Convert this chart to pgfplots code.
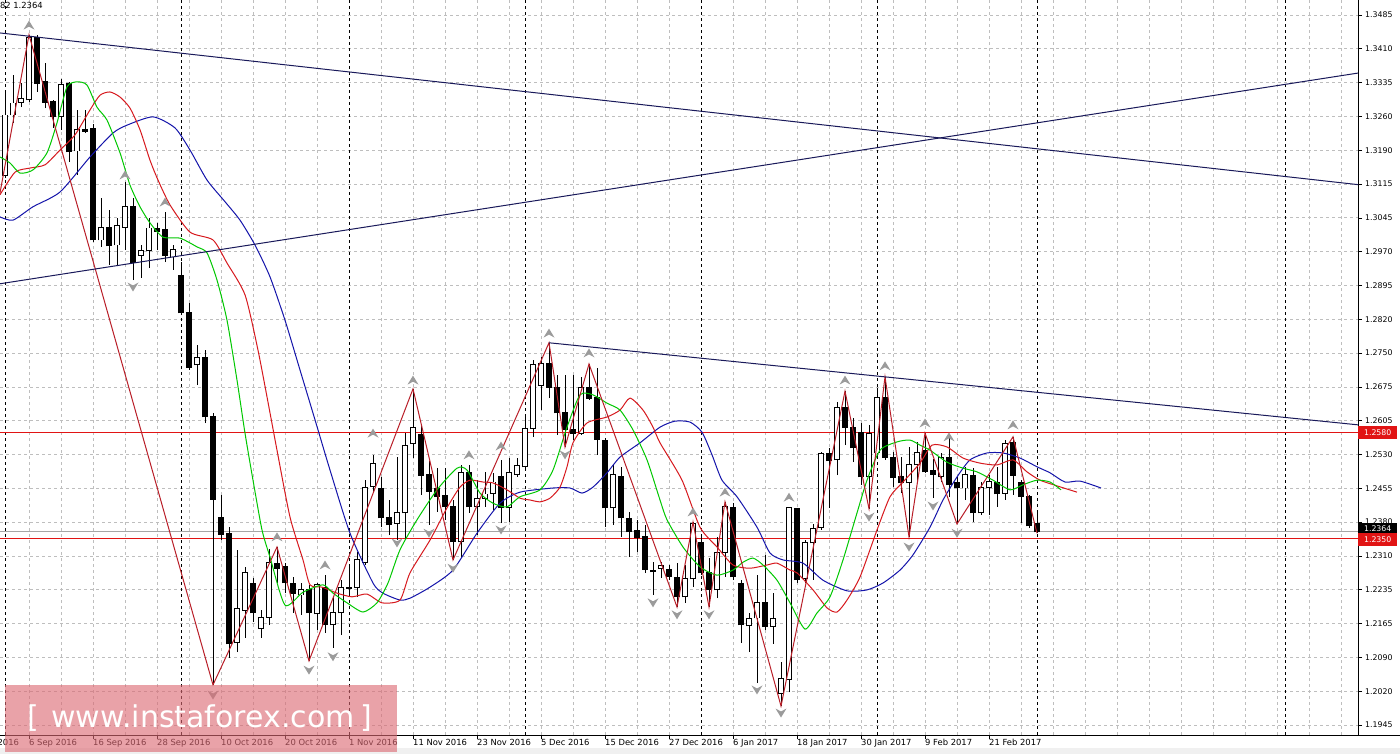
\documentclass[border=0pt]{standalone}
\usepackage{pgfplots}
\pgfplotsset{compat=1.18}
\usepackage{pgfplotstable}
\usepackage{fontspec}
\setmainfont{DejaVu Sans}

\definecolor{lips}{RGB}{0,200,0}
\definecolor{teeth}{RGB}{215,25,30}
\definecolor{jaw}{RGB}{20,20,170}
\definecolor{zz}{RGB}{185,30,40}
\definecolor{trend}{RGB}{25,25,90}
\definecolor{lvl}{RGB}{225,20,20}
\definecolor{gridc}{RGB}{190,190,190}
\definecolor{frac}{RGB}{155,155,155}
\definecolor{wm}{RGB}{220,105,115}

\pgfdeclareplotmark{fup}{%
 \pgfpathmoveto{\pgfqpoint{0pt}{4.5pt}}%
 \pgfpathlineto{\pgfqpoint{5.5pt}{-4.5pt}}%
 \pgfpathlineto{\pgfqpoint{0pt}{-1.5pt}}%
 \pgfpathlineto{\pgfqpoint{-5.5pt}{-4.5pt}}%
 \pgfpathclose\pgfusepathqfill}
\pgfdeclareplotmark{fdown}{%
 \pgfpathmoveto{\pgfqpoint{0pt}{-4.5pt}}%
 \pgfpathlineto{\pgfqpoint{5.5pt}{4.5pt}}%
 \pgfpathlineto{\pgfqpoint{0pt}{1.5pt}}%
 \pgfpathlineto{\pgfqpoint{-5.5pt}{4.5pt}}%
 \pgfpathclose\pgfusepathqfill}
\pgfdeclareplotmark{nothing}{}

\pgfplotstableread{
x o h l c
0 1.3136 1.3316 1.3131 1.3268
1 1.3268 1.3355 1.3251 1.3294
2 1.3296 1.3337 1.3285 1.3303
3 1.3301 1.3442 1.3296 1.3437
4 1.3437 1.3442 1.3318 1.3337
5 1.3340 1.3381 1.3283 1.3296
6 1.3298 1.3301 1.3240 1.3264
7 1.3264 1.3346 1.3236 1.3335
8 1.3337 1.3340 1.3166 1.3188
9 1.3190 1.3279 1.3138 1.3236
10 1.3236 1.3279 1.3229 1.3233
11 1.3238 1.3249 1.2993 1.2997
12 1.2997 1.3088 1.2982 1.3025
13 1.3025 1.3062 1.2943 1.2984
14 1.2986 1.3045 1.2943 1.3029
15 1.3025 1.3123 1.2975 1.3069
16 1.3069 1.3088 1.2910 1.2949
17 1.2964 1.2986 1.2915 1.2975
18 1.2975 1.3045 1.2936 1.3023
19 1.3023 1.3034 1.2975 1.3016
20 1.3019 1.3058 1.2949 1.2964
21 1.2960 1.2986 1.2932 1.2977
22 1.2921 1.2949 1.2834 1.2839
23 1.2839 1.2860 1.2715 1.2721
24 1.2726 1.2769 1.2682 1.2743
25 1.2743 1.2758 1.2600 1.2613
26 1.2615 1.2622 1.2032 1.2435
27 1.2396 1.2444 1.2346 1.2359
28 1.2361 1.2374 1.2090 1.2121
29 1.2123 1.2325 1.2103 1.2197
30 1.2194 1.2288 1.2134 1.2275
31 1.2253 1.2264 1.2168 1.2188
32 1.2155 1.2194 1.2134 1.2179
33 1.2179 1.2327 1.2162 1.2298
34 1.2296 1.2331 1.2253 1.2285
35 1.2288 1.2296 1.2231 1.2253
36 1.2251 1.2266 1.2188 1.2231
37 1.2227 1.2253 1.2184 1.2238
38 1.2240 1.2249 1.2084 1.2188
39 1.2186 1.2253 1.2151 1.2249
40 1.2244 1.2270 1.2145 1.2162
41 1.2162 1.2223 1.2112 1.2188
42 1.2188 1.2260 1.2140 1.2244
43 1.2244 1.2288 1.2223 1.2242
44 1.2244 1.2320 1.2223 1.2303
45 1.2298 1.2476 1.2292 1.2461
46 1.2463 1.2531 1.2450 1.2513
47 1.2457 1.2483 1.2374 1.2394
48 1.2396 1.2433 1.2357 1.2379
49 1.2383 1.2526 1.2346 1.2405
50 1.2405 1.2578 1.2346 1.2552
51 1.2555 1.2674 1.2524 1.2591
52 1.2576 1.2593 1.2444 1.2487
53 1.2489 1.2518 1.2379 1.2452
54 1.2457 1.2502 1.2407 1.2440
55 1.2442 1.2502 1.2390 1.2418
56 1.2418 1.2433 1.2303 1.2342
57 1.2342 1.2509 1.2309 1.2492
58 1.2492 1.2509 1.2405 1.2418
59 1.2418 1.2476 1.2357 1.2437
60 1.2437 1.2494 1.2418 1.2446
61 1.2448 1.2492 1.2411 1.2472
62 1.2483 1.2520 1.2383 1.2416
63 1.2416 1.2524 1.2385 1.2492
64 1.2489 1.2524 1.2483 1.2507
65 1.2505 1.2617 1.2502 1.2589
66 1.2589 1.2737 1.2570 1.2726
67 1.2682 1.2743 1.2628 1.2730
68 1.2730 1.2774 1.2654 1.2678
69 1.2678 1.2704 1.2574 1.2622
70 1.2622 1.2704 1.2548 1.2585
71 1.2585 1.2704 1.2563 1.2578
72 1.2578 1.2700 1.2574 1.2678
73 1.2678 1.2728 1.2650 1.2654
74 1.2656 1.2719 1.2531 1.2565
75 1.2563 1.2567 1.2374 1.2416
76 1.2416 1.2509 1.2379 1.2489
77 1.2485 1.2505 1.2353 1.2394
78 1.2394 1.2407 1.2309 1.2364
79 1.2366 1.2390 1.2320 1.2351
80 1.2353 1.2379 1.2275 1.2283
81 1.2281 1.2298 1.2227 1.2277
82 1.2285 1.2298 1.2264 1.2290
83 1.2283 1.2292 1.2260 1.2266
84 1.2266 1.2296 1.2201 1.2223
85 1.2223 1.2292 1.2210 1.2262
86 1.2262 1.2385 1.2244 1.2383
87 1.2340 1.2357 1.2270 1.2275
88 1.2275 1.2307 1.2201 1.2238
89 1.2238 1.2353 1.2220 1.2320
90 1.2320 1.2429 1.2266 1.2418
91 1.2416 1.2426 1.2260 1.2266
92 1.2251 1.2260 1.2123 1.2162
93 1.2160 1.2188 1.2103 1.2175
94 1.2177 1.2270 1.2036 1.2210
95 1.2210 1.2314 1.2151 1.2158
96 1.2158 1.2231 1.2121 1.2175
97 1.2014 1.2082 1.1986 1.2045
98 1.2043 1.2416 1.2016 1.2416
99 1.2414 1.2414 1.2253 1.2260
100 1.2262 1.2346 1.2253 1.2340
101 1.2340 1.2381 1.2260 1.2372
102 1.2374 1.2537 1.2368 1.2533
103 1.2535 1.2546 1.2416 1.2518
104 1.2520 1.2646 1.2487 1.2633
105 1.2633 1.2669 1.2552 1.2591
106 1.2591 1.2611 1.2515 1.2546
107 1.2580 1.2600 1.2466 1.2483
108 1.2483 1.2596 1.2414 1.2578
109 1.2535 1.2676 1.2526 1.2656
110 1.2656 1.2700 1.2520 1.2526
111 1.2526 1.2537 1.2461 1.2481
112 1.2485 1.2526 1.2448 1.2470
113 1.2470 1.2548 1.2353 1.2509
114 1.2509 1.2559 1.2472 1.2537
115 1.2541 1.2578 1.2492 1.2494
116 1.2496 1.2522 1.2437 1.2489
117 1.2483 1.2535 1.2472 1.2526
118 1.2526 1.2567 1.2440 1.2466
119 1.2470 1.2483 1.2381 1.2459
120 1.2459 1.2505 1.2433 1.2489
121 1.2487 1.2502 1.2385 1.2405
122 1.2405 1.2472 1.2400 1.2461
123 1.2461 1.2487 1.2400 1.2474
124 1.2472 1.2505 1.2418 1.2446
125 1.2448 1.2563 1.2433 1.2555
126 1.2557 1.2570 1.2444 1.2487
127 1.2472 1.2476 1.2383 1.2440
128 1.2440 1.2444 1.2372 1.2377
129 1.2382 1.2405 1.2361 1.2364
}\candles

\pgfplotstableread{
x y
-0.625 1.3047
1.0 1.3040
3.5 1.3069
6.875 1.3101
10.625 1.3177
13.5 1.3229
15.25 1.3246
18.5 1.3264
21.25 1.3240
23.125 1.3192
25.25 1.3127
27.5 1.3080
29.375 1.3040
31.25 1.2986
33.125 1.2917
35 1.2823
36.875 1.2715
38.75 1.2607
40.625 1.2498
43.125 1.2361
46 1.2253
47.25 1.2231
49.375 1.2216
50.625 1.2220
53.125 1.2244
56 1.2281
59 1.2361
61.875 1.2426
64.375 1.2450
68.5 1.2459
70.625 1.2459
72.125 1.2448
73.5 1.2461
75.25 1.2492
76.875 1.2526
79.375 1.2557
81.875 1.2591
83.75 1.2604
85.625 1.2602
87.125 1.2580
88.375 1.2531
89.625 1.2476
91.5 1.2440
94 1.2374
95.625 1.2318
97.25 1.2303
99.75 1.2296
102.25 1.2259
105.25 1.2236
107.75 1.2238
109.75 1.2253
111.875 1.2281
113.5 1.2314
115.625 1.2374
117.25 1.2433
119 1.2483
120.625 1.2520
122.75 1.2535
124.75 1.2535
126.875 1.2524
129 1.2505
130.625 1.2492
132.5 1.2472
134.375 1.2474
137 1.2459
}\jaw

\pgfplotstableread{
x y
-0.625 1.3095
1.25 1.3144
3.125 1.3153
5 1.3160
6.875 1.3192
8.75 1.3225
10.625 1.3279
11.875 1.3311
13.125 1.3318
14.375 1.3307
15.625 1.3283
16.875 1.3236
18.125 1.3170
19.125 1.3127
20.625 1.3073
23.125 1.3014
26 1.2997
27.75 1.2947
30 1.2878
31.625 1.2758
33.125 1.2622
34 1.2541
35.625 1.2396
37.25 1.2303
38.125 1.2249
39.625 1.2244
41.5 1.2231
43.375 1.2223
45.25 1.2229
47.125 1.2210
49.375 1.2216
50.625 1.2275
53.125 1.2346
55.25 1.2416
56.875 1.2461
58.125 1.2476
59.75 1.2472
61 1.2470
62.75 1.2455
64.375 1.2437
65.625 1.2433
66.875 1.2429
68.125 1.2437
69.375 1.2461
70.25 1.2505
71 1.2557
72.75 1.2600
75.25 1.2613
76.875 1.2628
78.125 1.2654
79.75 1.2628
81 1.2591
81.875 1.2557
84.625 1.2476
86.875 1.2374
89 1.2331
91 1.2292
93.125 1.2285
95.25 1.2292
96.5 1.2296
98.125 1.2281
99 1.2275
101 1.2238
102.75 1.2199
104 1.2190
105.25 1.2216
106.875 1.2266
109 1.2368
110.625 1.2440
112.25 1.2472
114.375 1.2513
115.875 1.2552
117.75 1.2548
119.75 1.2524
121.875 1.2513
124 1.2509
126 1.2520
127.75 1.2494
129.375 1.2476
131.25 1.2465
134 1.2450
}\teeth

\pgfplotstableread{
x y
-0.625 1.3177
0.625 1.3164
1.875 1.3142
3.5 1.3149
5.25 1.3186
6.5 1.3251
7.75 1.3329
9 1.3340
10.25 1.3333
11.5 1.3285
12.75 1.3257
14.375 1.3186
15.625 1.3116
16.875 1.3069
18.125 1.3034
19.75 1.3003
21.875 1.3001
24 1.2982
25.25 1.2969
26.5 1.2910
27.75 1.2823
29 1.2693
30 1.2578
31 1.2476
32.125 1.2368
33.125 1.2309
35 1.2205
37.25 1.2233
39.75 1.2249
41 1.2231
42.75 1.2210
44.75 1.2190
46.5 1.2210
47.875 1.2253
49.375 1.2325
51.5 1.2390
54 1.2455
56.5 1.2502
57.75 1.2498
59.375 1.2448
61 1.2426
62.75 1.2418
64.375 1.2440
66.875 1.2455
68.5 1.2498
70.25 1.2591
71.875 1.2661
73.5 1.2661
75.25 1.2643
76.875 1.2628
78.5 1.2585
80.25 1.2520
81.875 1.2433
82.75 1.2390
84.75 1.2331
86.875 1.2288
89 1.2270
91 1.2281
92.25 1.2298
93.5 1.2307
94.75 1.2292
96.5 1.2259
98.125 1.2210
100 1.2153
101.5 1.2188
103.125 1.2223
104.75 1.2303
106.5 1.2405
107.75 1.2476
109.375 1.2541
111.5 1.2559
113.125 1.2563
114.375 1.2552
115.625 1.2541
117.75 1.2515
119.75 1.2502
121.5 1.2494
123.5 1.2476
125.625 1.2455
127.25 1.2466
129 1.2476
130.625 1.2472
132 1.2455
}\lips

\pgfplotstableread{
x y
-0.625 1.3099
3 1.3442
26 1.2032
34 1.2331
38 1.2084
51 1.2674
56 1.2303
68 1.2774
70 1.2548
73 1.2728
84 1.2201
86 1.2385
88 1.2201
90 1.2429
97 1.1986
105 1.2669
108 1.2414
110 1.2700
113 1.2353
115 1.2578
119 1.2381
126 1.2570
129 1.2361
}\zigzag

\pgfplotstableread{
x y
3 1.3463
15 1.3138
20 1.3079
34 1.2353
40 1.2292
46 1.2578
51 1.2693
58 1.2531
62 1.2550
68 1.2795
73 1.2752
86 1.2407
90 1.2450
98 1.2439
105 1.2693
110 1.2724
115 1.2600
118 1.2570
126 1.2596
}\fracup

\pgfplotstableread{
x y
16 1.2895
26 1.2010
38 1.2064
41 1.2093
49 1.2340
53 1.2361
56 1.2285
62 1.2368
70 1.2531
81 1.2210
84 1.2184
88 1.2184
94 1.2021
97 1.1971
108 1.2396
113 1.2331
116 1.2420
119 1.2361
}\fracdown

\begin{document}
\begin{tikzpicture}
\path[use as bounding box] (0,0) rectangle (1400pt,754pt);
\fill[white] (0,0) rectangle (1400pt,754pt);
\fill[black!6] (0,0) rectangle (1400pt,6pt);
\begin{axis}[
  at={(0pt,19pt)}, anchor=south west,
  scale only axis, width=1358pt, height=735pt,
  xmin=-0.625, xmax=169.125, ymin=1.19233, ymax=1.35175,
  axis x line*=bottom, axis y line*=right,
  x axis line style={-, black, line width=0.8pt},
  y axis line style={-, black, line width=0.8pt},
  clip=false,
  tick align=outside, major tick length=4pt, minor tick length=0pt,
  tick style={black, line width=0.6pt},
  xtick={3,11,19,27,35,43,51,59,67,75,83,91,99,107,115,123},
  xticklabels={6 Sep 2016,16 Sep 2016,28 Sep 2016,10 Oct 2016,20 Oct 2016,1 Nov 2016,11 Nov 2016,23 Nov 2016,5 Dec 2016,15 Dec 2016,27 Dec 2016,6 Jan 2017,18 Jan 2017,30 Jan 2017,9 Feb 2017,21 Feb 2017},
  minor xtick={7,15,23,31,39,47,55,63,71,79,87,95,103,111,119,127,131,135,139,143,147,151,155,159,163,167},
  ytick={1.1945,1.20183,1.20917,1.2165,1.22383,1.23117,1.2385,1.24583,1.25317,1.2605,1.26783,1.27517,1.2825,1.28983,1.29717,1.3045,1.31183,1.31917,1.3265,1.33383,1.34117,1.3485},
  yticklabels={1.1945,1.2020,1.2090,1.2165,1.2235,1.2310,1.2380,1.2455,1.2530,1.2605,1.2675,1.2750,1.2820,1.2895,1.2970,1.3045,1.3115,1.3190,1.3260,1.3335,1.3410,1.3485},
  grid=both,
  major grid style={gridc, dash pattern=on 3pt off 3pt, line width=0.8pt},
  minor grid style={gridc, dash pattern=on 3pt off 3pt, line width=0.8pt},
  extra x ticks={0,22,43,65,87,109,129,160},
  extra x tick labels={},
  extra x tick style={major tick length=0pt, major grid style={black, dash pattern=on 3pt off 3pt, line width=0.9pt}},
  xticklabel style={anchor=north west, font=\fontsize{8.4}{10}\selectfont, inner sep=0pt, xshift=0pt, yshift=0pt},
  yticklabel style={anchor=west, font=\fontsize{7.8}{9}\selectfont, inner sep=0pt, xshift=3pt},
  candle/.style={only marks, mark=nothing, mark options={draw=none, fill=none}, forget plot},
]
% levels
\addplot[black!35, line width=0.8pt, forget plot] coordinates {(-0.625,1.2364) (169.125,1.2364)};
\addplot[lvl, line width=1pt, forget plot] coordinates {(-0.625,1.2580) (169.125,1.2580)};
\addplot[lvl, line width=1pt, forget plot] coordinates {(-0.625,1.2350) (169.125,1.2350)};
% wicks (one segment from low to high)
\addplot[candle, error bars/.cd, y dir=plus, y explicit, error mark=none,
  error bar style={solid, draw=black, line width=1pt}]
  table[x=x, y=l, y error expr={\thisrow{h}-\thisrow{l}}] {\candles};
% bodies (black rectangle for every candle)
\addplot[candle, error bars/.cd, y dir=plus, y explicit, error mark=none,
  error bar style={solid, draw=black, line width=5.5pt}]
  table[x=x, y expr={min(\thisrow{o},\thisrow{c})-0.0001}, y error expr={abs(\thisrow{o}-\thisrow{c})+0.0002}] {\candles};
% white interior of rising candles
\addplot[candle, error bars/.cd, y dir=plus, y explicit, error mark=none,
  error bar style={solid, draw=white, line width=3.5pt}]
  table[x=x, y expr={\thisrow{o}+0.0001}, y error expr={ifthenelse(\thisrow{c}>\thisrow{o},max(\thisrow{c}-\thisrow{o}-0.0002,0),0)}] {\candles};
% alligator
\addplot[jaw, line width=1pt, smooth, tension=0.4, forget plot] table {\jaw};
\addplot[teeth, line width=1pt, smooth, tension=0.4, forget plot] table {\teeth};
\addplot[lips, line width=1pt, smooth, tension=0.4, forget plot] table {\lips};
% zigzag
\addplot[zz, line width=1pt, forget plot] table {\zigzag};
% trend lines
\addplot[trend, line width=1pt, forget plot] coordinates {(-0.625,1.3446) (169.125,1.3117)};
\addplot[trend, line width=1pt, forget plot] coordinates {(-0.625,1.2902) (169.125,1.3359)};
\addplot[trend, line width=1pt, forget plot] coordinates {(68,1.2774) (169.125,1.2596)};
% fractals
\addplot[only marks, mark=fup, color=frac, forget plot] table {\fracup};
\addplot[only marks, mark=fdown, color=frac, forget plot] table {\fracdown};
% price labels
\node[fill=black, text=white, anchor=west, minimum width=39pt, minimum height=11pt, inner sep=0pt, font=\fontsize{7.8}{9}\selectfont] at (axis cs:169.125,1.2364) [yshift=3pt] {1.2364};
\node[fill=lvl, text=white, anchor=west, minimum width=39pt, minimum height=13pt, inner sep=0pt, font=\fontsize{7.8}{9}\selectfont] at (axis cs:169.125,1.2580) {1.2580};
\node[fill=lvl, text=white, anchor=west, minimum width=39pt, minimum height=13pt, inner sep=0pt, font=\fontsize{7.8}{9}\selectfont] at (axis cs:169.125,1.2350) [yshift=-1pt] {1.2350};
\end{axis}
\draw[black, line width=0.8pt] (1358pt,19pt) -- (1400pt,19pt);
\node[anchor=north west, inner sep=0pt, font=\fontsize{8.4}{10}\selectfont] at (-35pt,15pt) {25 Aug 2016};
\node[anchor=north east, inner sep=0pt, font=\fontsize{8.4}{10}\selectfont] at (43pt,752pt) {1.2382 1.2364};
\fill[wm, opacity=0.62] (5pt,2pt) rectangle (397pt,69pt);
\node[text=white, inner sep=0pt, font=\fontsize{30}{32}\selectfont] at (200pt,36pt) {[\hspace{12pt}www.instaforex.com\hspace{6pt}]};
\end{tikzpicture}
\end{document}
